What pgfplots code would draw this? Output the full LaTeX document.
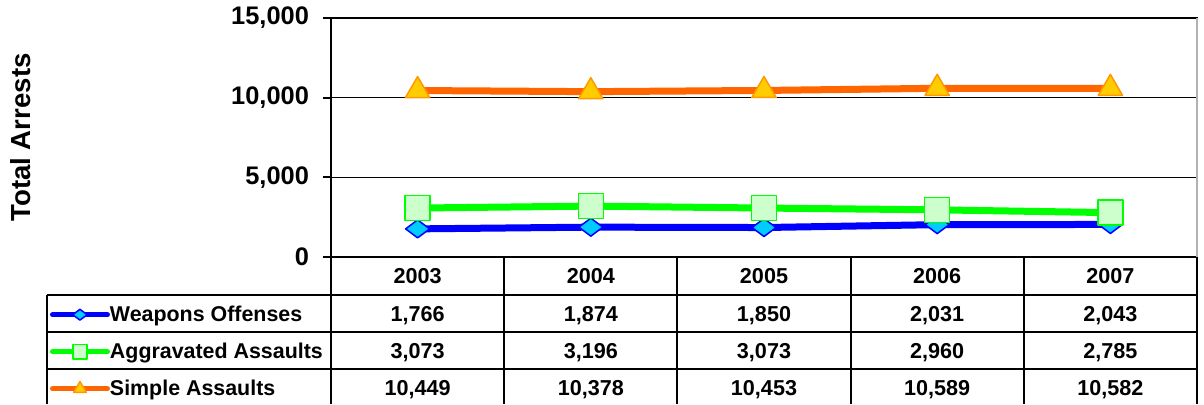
\documentclass[border=0pt]{standalone}
\usepackage{fontspec}
\setmainfont{Liberation Sans}
\usepackage{pgfplots}
\pgfplotsset{compat=1.18}
\definecolor{wline}{RGB}{0,0,255}
\definecolor{wfill}{RGB}{0,204,255}
\definecolor{aline}{RGB}{0,255,0}
\definecolor{afill}{RGB}{204,255,204}
\definecolor{sline}{RGB}{255,102,0}
\definecolor{sfill}{RGB}{255,204,0}
\definecolor{sedge}{RGB}{255,153,0}
\begin{document}
\begin{tikzpicture}
\useasboundingbox (-165.5pt,-73.5pt) rectangle (436.5pt,128.5pt);
\begin{axis}[
  scale only axis, width=433pt, height=119.5pt,
  xmin=-0.5, xmax=4.5, ymin=0, ymax=15000,
  xtick=\empty, ytick={0,5000,10000,15000},
  ytick pos=left, tick align=outside, major tick length=4pt,
  ymajorgrids, grid style={black, line width=0.75pt},
  axis line style={black, line width=1pt},
  tick style={black, line width=1pt},
  scaled y ticks=false,
  /pgf/number format/assume math mode=true,
  /pgf/number format/1000 sep={,},
  yticklabel style={font=\bfseries\fontsize{12.7}{14}\selectfont, xshift=-3.5pt},
  ylabel={Total Arrests},
  ylabel style={at={(axis description cs:-0.358,0.5)}, anchor=center, font=\bfseries\fontsize{13.8}{15}\selectfont},
  clip=false,
  legend cell align=left,
  legend style={at={(axis description cs:-0.3245,-0.159)}, anchor=north west, draw=none, fill=none,
    inner sep=0pt, outer sep=0pt, row sep=0pt, column sep=0pt,
    font=\bfseries\fontsize{10.7}{12}\selectfont,
    nodes={inner sep=0pt, text height=13.2pt, text depth=5.3pt}},
  legend image code/.code={
    \draw[#1, mark=none, line width=2.6pt, line cap=round] (0pt,-0.6pt) -- (27.4pt,-0.6pt);
    \draw[#1, only marks, mark size=3.6pt] plot coordinates {(13.7pt,-0.6pt)};
  },
]
\addplot[color=wline, line width=3.5pt, line join=round, mark=diamond*, mark size=6pt,
  mark options={rotate=90, fill=wfill, draw=wline, line width=0.75pt}]
  coordinates {(0,1766) (1,1874) (2,1850) (3,2031) (4,2043)};
\addlegendentry{Weapons Offenses}
\addplot[color=aline, line width=3.5pt, line join=round, mark=square*, mark size=6.25pt,
  mark options={fill=afill, draw=aline, line width=0.75pt}]
  coordinates {(0,3073) (1,3196) (2,3073) (3,2960) (4,2785)};
\addlegendentry{Aggravated Assaults}
\addplot[color=sline, line width=3.5pt, line join=round, mark=triangle*, mark size=7pt,
  mark options={fill=sfill, draw=sedge, line width=0.75pt}]
  coordinates {(0,10449) (1,10378) (2,10453) (3,10589) (4,10582)};
\addlegendentry{Simple Assaults}
\end{axis}
\draw[gray!60, line width=1pt] (433pt,0pt) -- (433pt,119.5pt);
\begin{scope}[line width=1pt]
\foreach \x in {0,86.6,173.2,259.8,346.4,433} \draw (\x pt,0pt) -- (\x pt,-73.5pt);
\draw (-142pt,-19pt) -- (-142pt,-73.5pt);
\foreach \y in {-19,-37.5,-56} \draw (-142pt,\y pt) -- (433pt,\y pt);
\end{scope}
\begin{scope}[every node/.style={anchor=base, inner sep=0pt, font=\bfseries\fontsize{10.8}{12}\selectfont}]
\foreach \v [count=\i from 0] in {2003,2004,2005,2006,2007}
  \node at ({(43.3+86.6*\i)*1pt},-13.1pt) {\v};
\foreach \v [count=\i from 0] in {{1,766},{1,874},{1,850},{2,031},{2,043}}
  \node at ({(43.3+86.6*\i)*1pt},-32.1pt) {\v};
\foreach \v [count=\i from 0] in {{3,073},{3,196},{3,073},{2,960},{2,785}}
  \node at ({(43.3+86.6*\i)*1pt},-50.6pt) {\v};
\foreach \v [count=\i from 0] in {{10,449},{10,378},{10,453},{10,589},{10,582}}
  \node at ({(43.3+86.6*\i)*1pt},-69.1pt) {\v};
\end{scope}
\end{tikzpicture}
\end{document}
